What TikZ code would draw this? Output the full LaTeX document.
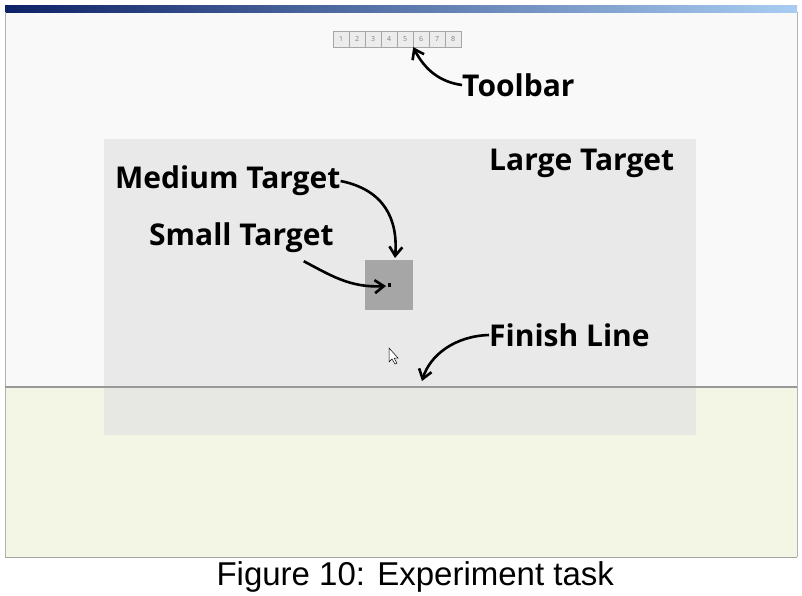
\documentclass[tikz,border=0pt]{standalone}
\usepackage{fontspec}
\setmainfont{Open Sans}
\newfontfamily\capfont{Liberation Sans}
\usetikzlibrary{arrows.meta, positioning}
\definecolor{titledark}{HTML}{0E2266}
\definecolor{titlelight}{HTML}{A9CDF2}
\definecolor{winbg}{HTML}{F9F9F9}
\definecolor{floorbg}{HTML}{F3F5E5}
\definecolor{largebg}{HTML}{E4E4E4}
\definecolor{mediumbg}{HTML}{A6A6A6}
\tikzset{
  lbl/.style={font=\fontsize{30}{32}\selectfont\bfseries, inner sep=0pt},
  callout/.style={line width=2.6pt, -{Straight Barb[length=9pt, width=13pt, line width=2.6pt]}},
  tbcell/.style={draw=gray!70, fill=gray!15, minimum width=16pt, minimum height=16pt, inner sep=0pt, font=\fontsize{7}{7}\selectfont, text=gray}
}
\begin{document}
\begin{tikzpicture}[x=1pt, y=-1pt]
  \useasboundingbox (0,0) rectangle (802,595);
  \fill[white] (0,0) rectangle (802,595);
  % window
  \fill[winbg] (5,12) rectangle (797,387);
  \shade[left color=titledark, right color=titlelight] (5,5) rectangle (797,12);
  \fill[floorbg] (5,387) rectangle (797,557);
  \draw[gray!70, line width=0.8pt] (5,557) -- (797,557);
  \draw[gray!60] (5,12) -- (5,557) (797,12) -- (797,557);
  % targets
  \fill[largebg, opacity=0.75] (104,139) rectangle (696,435);
  \fill[mediumbg] (365,260) rectangle (413,310);
  \fill[black] (388,283) rectangle (391,287);
  \draw[gray!80, line width=1.2pt] (5,387) -- (797,387);
  % toolbar
  \foreach \i in {1,...,8}
    \node[tbcell] (tb\i) at (333+16*\i-8, 39) {\i};
  % labels
  \node[lbl, anchor=west] (toolbar) at (462,85) {Toolbar};
  \node[lbl, anchor=west] (large) at (489,163) {Large Target};
  \node[lbl, anchor=west] (medium) at (115,181) {Medium Target};
  \node[lbl, anchor=west] (small) at (149,238) {Small Target};
  \node[lbl, anchor=west] (finish) at (489,335) {Finish Line};
  \coordinate (medtop) at (395,258);
  \coordinate (smalldot) at (386,286);
  \coordinate (finishpt) at (422,381);
  \draw[callout] (toolbar.west) .. controls (440,82) and (425,70) .. (tb5.south east);
  \draw[callout] (medium.east) .. controls (385,190) and (398,220) .. (medtop);
  \draw[callout] (small.south east) ++(-30,8) .. controls (330,275) and (350,288) .. (smalldot);
  \draw[callout] (finish.west) .. controls (455,336) and (430,355) .. (finishpt);
  % cursor
  \draw[fill=white, line width=0.5pt] (389,348) -- (389,362) -- (392,359) -- (395,364) -- (397,363) -- (394,358) -- (398,358) -- cycle;
  % caption
  \node[font=\capfont\fontsize{33}{35}\selectfont, anchor=base west] (caption) at (213,585) {Figure 10: Experiment task};
\end{tikzpicture}
\end{document}
